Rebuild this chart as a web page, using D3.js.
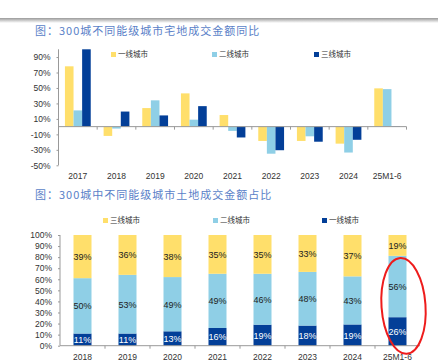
<!DOCTYPE html>
<html>
<head>
<meta charset="utf-8">
<script src="https://cdn.jsdelivr.net/npm/d3@7"></script>
<style>
  body { margin: 0; background: #fff; }
  text { font-family: "Liberation Sans", "Noto Sans CJK SC", sans-serif; }
  .cjk { font-family: "Noto Sans CJK SC", sans-serif; }
</style>
</head>
<body>
<div id="chart-area"></div>
<script>
// top chart: year-on-year change (%)
const years1 = ["2017", "2018", "2019", "2020", "2021", "2022", "2023", "2024", "25M1-6"]
const tier1Yoy = [78, -12, 24, 43, 15, -18.5, -18.5, -22, 49.5]
const tier2Yoy = [21, -2.5, 34, 9, -5.5, -35, -12.5, -33.5, 48.5]
const tier3Yoy = [100, 19.5, 14.5, 26.5, -14, -30.5, -19.5, -17, 0.5]
const yoyTicks = [-50, -30, -10, 10, 30, 50, 70, 90]

// bottom chart: share of land sales (%)
const years2 = ["2018", "2019", "2020", "2021", "2022", "2023", "2024", "25M1-6"]
const tier1Share = [11, 11, 13, 16, 19, 18, 19, 26]
const tier2Share = [50, 53, 49, 49, 46, 48, 43, 56]
const tier3Share = [39, 36, 38, 35, 35, 33, 37, 19]
const shareTicks = [0, 10, 20, 30, 40, 50, 60, 70, 80, 90, 100]

const YELLOW = "#ffdf6b"
const LIGHT = "#8fcfe6"
const DARK = "#033f98"
const TITLE = "#5a7fc8"

const svg = d3.select("#chart-area").append("svg")
  .attr("width", 438)
  .attr("height", 363)

// grey shadow line at the top
const grad = svg.append("defs").append("linearGradient")
  .attr("id", "shade").attr("x1", 0).attr("x2", 0).attr("y1", 0).attr("y2", 1)
grad.append("stop").attr("offset", "0%").attr("stop-color", "#9a9a9a")
grad.append("stop").attr("offset", "100%").attr("stop-color", "#ffffff")
svg.append("rect").attr("x", 0).attr("y", 18).attr("width", 438).attr("height", 5)
  .attr("fill", "url(#shade)")

function title(y, str) {
  svg.append("text")
    .attr("class", "cjk")
    .attr("x", 35).attr("y", y)
    .attr("font-size", 11)
    .attr("letter-spacing", 1)
    .attr("fill", TITLE)
    .text(str)
}

function legend(y, items) {
  items.forEach(it => {
    svg.append("rect").attr("x", it.x).attr("y", y - 3).attr("width", 5).attr("height", 5)
      .attr("fill", it.color)
    svg.append("text").attr("class", "cjk")
      .attr("x", it.x + 7).attr("y", y + 2)
      .attr("font-size", 7.5).attr("fill", "#333")
      .text(it.name)
  })
}

//TOP CHART
title(35, "图：300城不同能级城市宅地成交金额同比")
legend(55, [
  { x: 111, color: YELLOW, name: "一线城市" },
  { x: 212, color: LIGHT, name: "二线城市" },
  { x: 314, color: DARK, name: "三线城市" }
])

const x1 = d3.scaleBand().domain(years1).range([58.5, 406.5])
const y1 = d3.scaleLinear().domain([-50, 100]).range([165.3, 49.3])
const inner1 = d3.scaleBand().domain([0, 1, 2]).range([0, 25.8])
const off1 = (x1.bandwidth() - 25.8) / 2
const series1 = [tier1Yoy, tier2Yoy, tier3Yoy]
const colors1 = [YELLOW, LIGHT, DARK]

const g1 = svg.append("g")
series1.forEach((vals, s) => {
  g1.selectAll(".bar" + s)
    .data(years1.map((yr, i) => ({ yr, v: vals[i] })))
    .enter().append("rect")
    .attr("x", d => x1(d.yr) + off1 + inner1(s))
    .attr("y", d => y1(Math.max(0, d.v)))
    .attr("width", inner1.bandwidth())
    .attr("height", d => Math.abs(y1(d.v) - y1(0)))
    .attr("fill", colors1[s])
})

// y axis
const yAxis1 = d3.axisLeft(y1).tickValues(yoyTicks).tickFormat(d => d + "%").tickSize(2).tickPadding(6)
const ya1 = svg.append("g").attr("transform", `translate(${58.5},0)`).call(yAxis1)
ya1.select(".domain").attr("stroke", "#999").attr("d", `M0,${y1(100)}V${y1(-50)}`)
ya1.selectAll(".tick line").attr("stroke", "#999")
ya1.selectAll("text").attr("font-size", 8.5).attr("fill", "#333")

// zero line with category ticks
svg.append("line").attr("x1", 58.5).attr("x2", 406.5).attr("y1", y1(0)).attr("y2", y1(0))
  .attr("stroke", "#999")
svg.selectAll(".xt1").data(years1.slice(1).concat(["end"])).enter().append("line")
  .attr("x1", d => d === "end" ? 406.5 : x1(d)).attr("x2", d => d === "end" ? 406.5 : x1(d))
  .attr("y1", y1(0)).attr("y2", y1(0) + 3).attr("stroke", "#999")

svg.selectAll(".xl1").data(years1).enter().append("text")
  .attr("x", d => x1(d) + x1.bandwidth() / 2)
  .attr("y", 179)
  .attr("text-anchor", "middle")
  .attr("font-size", 8.5).attr("fill", "#333")
  .text(d => d)

//BOTTOM CHART
title(199, "图：300城中不同能级城市土地成交金额占比")
legend(221, [
  { x: 103, color: YELLOW, name: "三线城市" },
  { x: 213, color: LIGHT, name: "二线城市" },
  { x: 322, color: DARK, name: "一线城市" }
])

const x2 = d3.scaleBand().domain(years2).range([60, 420]).paddingInner(0.6).paddingOuter(0.3)
const y2 = d3.scaleLinear().domain([0, 1]).range([345.7, 235])

const table = years2.map((yr, i) => ({ yr, t1: tier1Share[i], t2: tier2Share[i], t3: tier3Share[i] }))
const stack = d3.stack().keys(["t1", "t2", "t3"]).offset(d3.stackOffsetExpand)(table)
const colors2 = { t1: DARK, t2: LIGHT, t3: YELLOW }

stack.forEach(layer => {
  const lg = svg.append("g")
  lg.selectAll("rect").data(layer).enter().append("rect")
    .attr("x", d => x2(d.data.yr))
    .attr("y", d => y2(d[1]))
    .attr("width", x2.bandwidth())
    .attr("height", d => y2(d[0]) - y2(d[1]))
    .attr("fill", colors2[layer.key])
  lg.selectAll("text").data(layer).enter().append("text")
    .attr("x", d => x2(d.data.yr) + x2.bandwidth() / 2)
    .attr("y", d => (y2(d[0]) + y2(d[1])) / 2 + 3.5)
    .attr("text-anchor", "middle")
    .attr("font-size", 9)
    .attr("fill", layer.key === "t1" ? "#fff" : "#222")
    .text(d => d.data[layer.key] + "%")
})

const yAxis2 = d3.axisLeft(y2).tickValues(shareTicks.map(d => d / 100))
  .tickFormat(d => Math.round(d * 100) + "%").tickSize(2).tickPadding(6)
const ya2 = svg.append("g").attr("transform", `translate(${60},0)`).call(yAxis2)
ya2.select(".domain").attr("stroke", "#999").attr("d", `M0,${y2(1)}V${y2(0)}`)
ya2.selectAll(".tick line").attr("stroke", "#999")
ya2.selectAll("text").attr("font-size", 8.5).attr("fill", "#333")

svg.append("line").attr("x1", 60).attr("x2", 420).attr("y1", y2(0)).attr("y2", y2(0))
  .attr("stroke", "#999")
svg.selectAll(".xt2").data(years2.slice(1)).enter().append("line")
  .attr("x1", d => x2(d) - x2.step() * x2.paddingInner() / 2)
  .attr("x2", d => x2(d) - x2.step() * x2.paddingInner() / 2)
  .attr("y1", y2(0)).attr("y2", y2(0) + 3).attr("stroke", "#999")

svg.selectAll(".xl2").data(years2).enter().append("text")
  .attr("x", d => x2(d) + x2.bandwidth() / 2)
  .attr("y", 360)
  .attr("text-anchor", "middle")
  .attr("font-size", 8.5).attr("fill", "#333")
  .text(d => d)

// red highlight around the latest bar
const last = years2[years2.length - 1]
const cx = x2(last) + x2.bandwidth() / 2 + 6
svg.append("ellipse")
  .attr("cx", cx).attr("cy", y2(0.36))
  .attr("rx", 22).attr("ry", 48)
  .attr("transform", `rotate(-4, ${cx}, ${y2(0.36)})`)
  .attr("fill", "none").attr("stroke", "#ee1c1c").attr("stroke-width", 2)
</script>
</body>
</html>
